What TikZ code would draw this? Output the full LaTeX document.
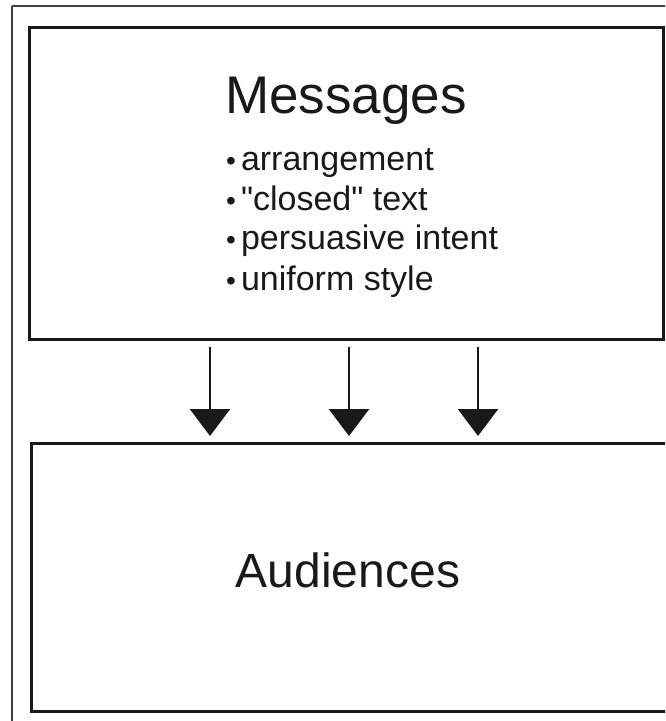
\documentclass[tikz,border=0pt]{standalone}
\usepackage{fontspec}
\setmainfont{Liberation Sans}[Ligatures=TeXOff]
\usetikzlibrary{arrows.meta}
\newcommand{\dotmark}{{\fontsize{28}{28}\selectfont •}\hspace{5pt}}
\begin{document}
\begin{tikzpicture}[x=1pt,y=-1pt,
  frame/.style={draw=black!75, line width=1.4pt},
  box/.style={draw=black!90, line width=3pt},
  title/.style={anchor=base, inner sep=0pt, text=black!90},
  item/.style={font=\fontsize{34}{40}\selectfont, anchor=base west, inner sep=0pt, text=black!90},
  flow/.style={draw=black!90, line width=2.7pt,
    -{Triangle[width=40pt,length=27pt]}, shorten <=8pt, shorten >=7pt}
]
\useasboundingbox (0,0) rectangle (665,721);
\clip (0,0) rectangle (665,721);
\fill[white] (0,0) rectangle (665,721);

% outer frame
\draw[frame] (12,6) -- (700,6) (12,6) -- (12,760);

% message box and its contents
\draw[box] (29,27) rectangle (663,339);
\coordinate (msgS) at (346,339);
\node[title, font=\fontsize{53}{60}\selectfont] (msgT) at (346,113) {Messages};
\node[item] (i1) at (226,170) {\dotmark arrangement};
\node[item] (i2) at (226,210) {\dotmark "closed" text};
\node[item] (i3) at (226,249) {\dotmark persuasive intent};
\node[item] (i4) at (226,290) {\dotmark uniform style};

% audience box
\draw[box] (31.5,443) rectangle (700,711);
\coordinate (audN) at (346,443);
\node[title, font=\fontsize{48}{56}\selectfont] (audT) at (348,587) {Audiences};

% arrows between the boxes
\coordinate (c1) at (210,0);
\coordinate (c2) at (349,0);
\coordinate (c3) at (478,0);
\foreach \c in {c1,c2,c3}
  \draw[flow] (msgS -| \c) -- (audN -| \c);
\end{tikzpicture}
\end{document}
